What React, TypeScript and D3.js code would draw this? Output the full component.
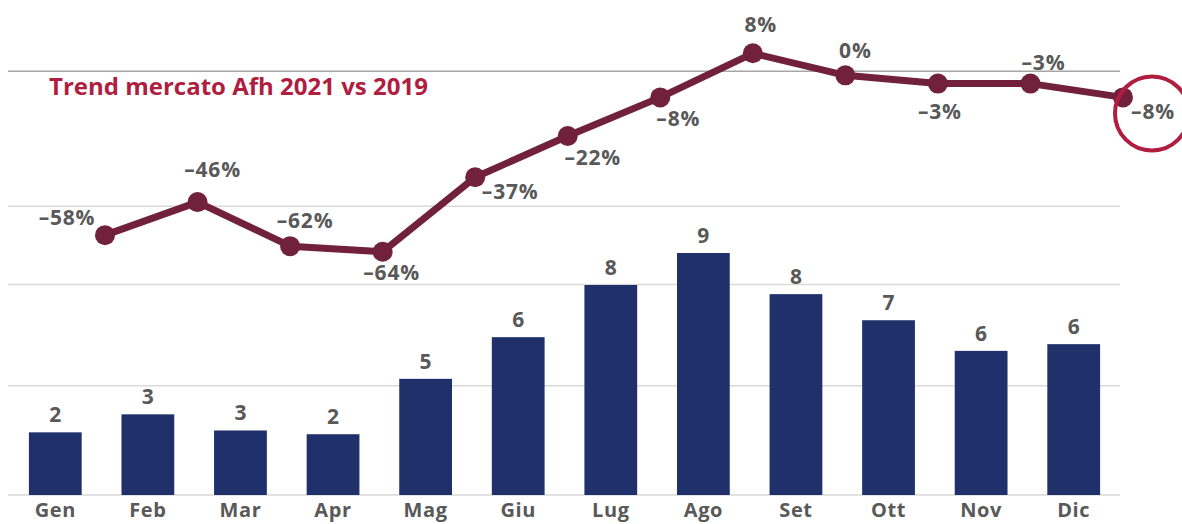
import React from "react";
import * as d3 from "d3";

const months = ["Gen", "Feb", "Mar", "Apr", "Mag", "Giu", "Lug", "Ago", "Set", "Ott", "Nov", "Dic"];
// bar heights (units: Ago = 9)
const barValues = [2.33, 3.0, 2.4, 2.26, 4.32, 5.87, 7.81, 9.0, 7.47, 6.5, 5.36, 5.61];
const barLabels = ["2", "3", "3", "2", "5", "6", "8", "9", "8", "7", "6", "6"];
// trend Afh 2021 vs 2019 (%)
const trendValues = [-58, -46, -62, -64, -37, -22, -8, 8, 0, -3, -3, -8];
// gridlines in bar units
const gridValues = [0, 4.06, 7.83, 10.74];
const topLineValue = 15.76;
const title = "Trend mercato Afh 2021 vs 2019";

// label placement relative to each point [dx, dy of text centre]
const trendLabelOffsets: [number, number][] = [
  [-38, -17], [15, -32], [15, -25], [9, 21], [35, 15], [25, 22],
  [18, 22], [8, -28], [10, -24], [2, 28], [13, -21], [30, 15],
];

const W = 1182;
const H = 524;
const FONT = "'Open Sans', sans-serif";
const GREY = "#595959";
const NAVY = "#20306b";
const MAROON = "#72213c";
const CRIMSON = "#b01e3f";

export default function App() {
  const x = d3.scaleBand<string>().domain(months).range([9, 1120]).paddingInner(0.43).paddingOuter(0.215);
  const yBar = d3.scaleLinear().domain([0, 9]).range([495, 253]);
  const xLine = d3.scalePoint<string>().domain(months).range([105, 1123]);
  const yLine = d3.scaleLinear().domain([-64, 8]).range([251.7, 53.3]);

  const pts = months.map((m, i) => [xLine(m)!, yLine(trendValues[i])] as [number, number]);
  const linePath = d3.line()(pts) || "";
  const fmt = (v: number) => `${v < 0 ? "\u2013" : ""}${Math.abs(v)}%`;

  const last = pts[pts.length - 1];

  return (
    <svg width={W} height={H} style={{ position: "absolute", left: 0, top: 0, background: "#fff" }} fontFamily={FONT}>
      {gridValues.map((g) => (
        <line key={g} x1={8} x2={1120} y1={yBar(g)} y2={yBar(g)} stroke="#d9d9d9" strokeWidth={1.5} />
      ))}
      <line x1={8} x2={1120} y1={yBar(topLineValue)} y2={yBar(topLineValue)} stroke="#a6a6a6" strokeWidth={1.5} />

      {months.map((m, i) => (
        <g key={m}>
          <rect x={x(m)} y={yBar(barValues[i])} width={x.bandwidth()} height={yBar(0) - yBar(barValues[i])} fill={NAVY} />
          <text x={x(m)! + x.bandwidth() / 2} y={yBar(barValues[i]) - 10} textAnchor="middle" fontSize={21} fontWeight={700} fill={GREY}>
            {barLabels[i]}
          </text>
          <text x={x(m)! + x.bandwidth() / 2} y={517} textAnchor="middle" fontSize={20} fontWeight={700} letterSpacing={0.6} fill={GREY}>
            {m}
          </text>
        </g>
      ))}

      <text x={49} y={95} fontSize={24} fontWeight={700} fill={CRIMSON}>{title}</text>

      <path d={linePath} fill="none" stroke={MAROON} strokeWidth={7} strokeLinejoin="round" />
      {pts.map((p, i) => (
        <circle key={i} cx={p[0]} cy={p[1]} r={10} fill={MAROON} />
      ))}
      {pts.map((p, i) => (
        <text key={"l" + i} x={p[0] + trendLabelOffsets[i][0]} y={p[1] + trendLabelOffsets[i][1] + 7} textAnchor="middle" fontSize={21} fontWeight={700} letterSpacing={0.8} fill={GREY}>
          {fmt(trendValues[i])}
        </text>
      ))}

      <circle cx={last[0] + 29} cy={last[1] + 16} r={37} fill="none" stroke={CRIMSON} strokeWidth={4} />
    </svg>
  );
}
